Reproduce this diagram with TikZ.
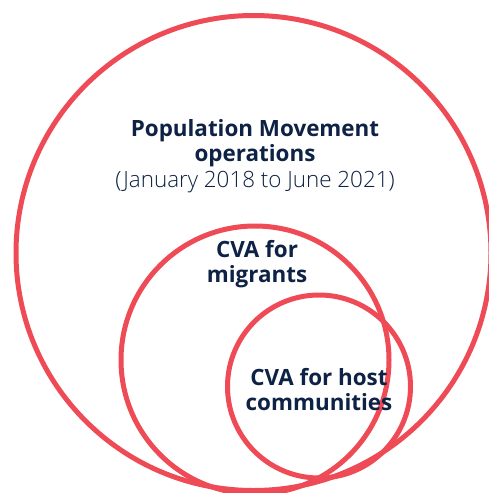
\documentclass[tikz,border=0pt]{standalone}
\usepackage{fontspec}
\setmainfont{Open Sans}
\newfontfamily\lightfont{Open Sans Light}
\definecolor{ring}{HTML}{EF4B56}
\definecolor{navy}{HTML}{0D2244}
\begin{document}
\begin{tikzpicture}[x=1pt,y=-1pt,
  ringstyle/.style={draw=ring,line width=5pt},
  lbl/.style={text=navy,font=\fontsize{22.4}{25}\selectfont\bfseries,align=center,inner sep=0pt}]
\useasboundingbox (0,0) rectangle (489,493);
\fill[white] (0,0) rectangle (489,493);
\node[ringstyle,circle,minimum size=475pt,inner sep=0pt] (outer) at (253.5,253) {};
\node[ringstyle,circle,minimum size=268pt,inner sep=0pt] (mid) at (255,360) {};
\node[ringstyle,circle,minimum size=183pt,inner sep=0pt] (small) at (319,386.5) {};
\node[lbl] (t1) at (255,143.5) {Population Movement\\operations};
\node[text=navy,font=\fontsize{22.4}{25}\selectfont\lightfont,inner sep=0pt] (t2) at (255,182) {(January 2018 to June 2021)};
\node[lbl] (t3) at (257,264.5) {CVA for\\migrants};
\node[lbl] (t4) at (319,390) {CVA for host\\communities};
\end{tikzpicture}
\end{document}
